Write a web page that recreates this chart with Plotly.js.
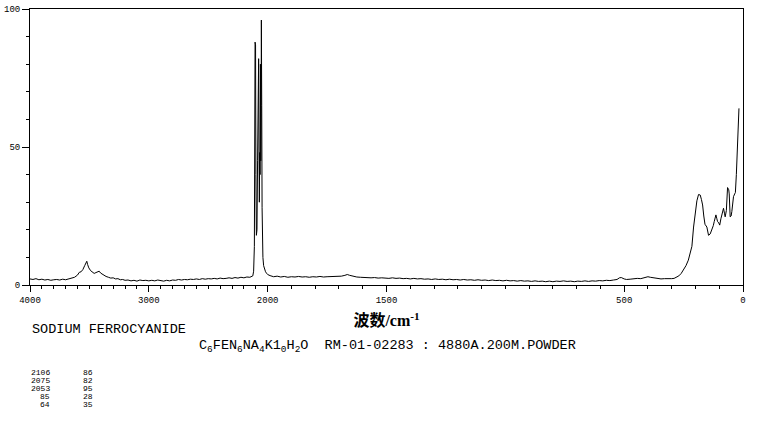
<!DOCTYPE html>
<html>
<head>
<meta charset="utf-8">
<script src="https://cdn.plot.ly/plotly-3.0.1.min.js"></script>
<style>html,body{margin:0;padding:0;background:#fff;}#chart{width:766px;height:425px;}</style>
</head>
<body>
<div id="chart"></div>
<script>
// Raman spectrum, wavenumber (cm-1) and intensity (%)
const wavenumber = [
4000,3975,3950,3925,3900,3875,3850,3825,3800,3775,3750,3725,3700,3675,3650,3625,3600,3585,3570,3555,3540,3530,3522,3515,3505,3490,3475,3460,3445,3430,3418,3405,3390,3375,3360,3340,3320,3300,3280,3260,3240,3220,3200,3175,3150,3125,3100,3075,3050,3025,
3000,2975,2950,2925,2900,2875,2850,2825,2800,2775,2750,2725,2700,2675,2650,2625,2600,2575,2550,2525,2500,2475,2450,2425,2400,2375,2350,2325,2300,2275,2250,2225,2200,2175,2150,2135,2125,2118,2112,2109,2106,2104,2102,2099,2095,2090,2085,2080,2076,2073,2070,2067,2064,2061,2058,2055,2053,2050,2047,2044,2040,2034,2026,2018,2010,
2000,1990,1975,1960,1945,1930,1915,1900,1885,1870,1855,1840,1825,1810,1795,1780,1765,1750,1735,1720,1705,1690,1675,1665,1655,1640,1625,1610,1595,1580,1565,1550,1535,1520,1505,1490,1475,1460,1445,1430,1415,1400,1385,1370,1355,1340,1325,1310,1295,1280,1265,1250,1235,1220,1205,1190,1175,1160,1145,1130,1115,1100,1085,1070,1055,1040,1025,1010,
995,980,965,950,935,920,905,890,875,860,845,830,815,800,785,770,755,740,725,710,695,680,665,650,635,620,605,590,575,560,545,530,520,512,500,490,475,460,445,430,415,400,390,375,360,345,330,315,300,290,280,270,260,250,240,230,222,215,208,201,194,187,180,175,170,165,160,152,145,138,131,125,121,114,110,107,102,98,93,88,82,78,75,70,65,60,58,54,50,47,43,40,35,32,28,24,20,17];
const intensity = [
2.2,2.0,2.3,1.9,2.1,1.8,2.0,1.7,1.9,2.0,1.8,2.1,1.9,2.2,2.5,2.8,3.6,4.6,4.8,5.6,7.0,8.3,8.6,7.4,6.2,5.2,4.6,4.2,4.5,4.9,5.0,4.3,3.9,3.4,3.1,2.8,2.5,2.6,2.2,2.3,1.9,2.0,1.7,1.8,1.5,1.7,1.4,1.8,1.6,1.7,
1.5,1.7,1.5,1.8,1.6,1.4,1.7,1.5,1.8,1.7,2.0,1.8,2.0,1.9,2.1,2.0,2.2,2.0,2.3,2.1,2.3,2.2,2.4,2.2,2.5,2.3,2.4,2.6,2.4,2.7,2.5,2.8,2.6,2.9,2.8,3.1,3.3,5,14,50,88,60,87,40,18,20,45,60,82,50,30,48,40,80,45,62,96,65,28,16,10,7,5.6,4.8,4.3,
3.8,3.4,3.0,3.2,2.9,3.1,2.8,3.0,2.9,3.1,2.9,3.0,2.8,3.0,2.9,3.1,2.9,3.0,3.0,3.1,3.0,3.2,3.5,3.8,3.5,3.1,2.9,2.8,2.7,2.8,2.6,2.7,2.5,2.6,2.5,2.4,2.6,2.4,2.5,2.3,2.4,2.2,2.4,2.2,2.3,2.1,2.2,2.0,2.2,2.0,2.1,1.9,2.1,1.9,2.0,1.8,2.0,1.8,1.9,1.7,1.9,1.7,1.8,1.6,1.8,1.6,1.7,1.5,
1.7,1.5,1.6,1.4,1.6,1.4,1.5,1.3,1.5,1.3,1.4,1.2,1.4,1.2,1.4,1.3,1.5,1.3,1.4,1.2,1.4,1.3,1.5,1.3,1.5,1.4,1.6,1.5,1.7,1.6,1.8,2.0,2.6,2.7,2.2,2.0,2.1,2.3,2.4,2.3,2.6,3.0,2.8,2.6,2.3,2.2,2.3,2.2,2.3,2.4,2.8,3.3,4.2,5.4,7.0,9.0,11.5,14,21,27,30.5,32.8,32.6,31,29,25,22,21,18,18.5,20,21.5,23,25.4,24,23,22.5,21.7,24,26,27.8,26,24.7,27,35.3,34.5,33,24.7,25,26.6,30,32,33,33.5,40,49,58,64];

// axis tick labels (wavenumber)
const majorTicks = [4000,3000,2000,1500,500,0];
const majorLabels = ["4000","3000","2000","1500","500","0"];

// peak table
const peakWn = ["2106","2075","2053","85","64"];
const peakInt = ["86","82","95","28","35"];

// two-scale wavenumber axis: 4000-2000 compressed by 2
function toU(w){ return w >= 2000 ? (4000 - w) / 2 : 1000 + (2000 - w); }

const minorVals = [];
for (let w = 3900; w > 2000; w -= 100) minorVals.push(toU(w));
for (let w = 1900; w > 0; w -= 100) if (majorTicks.indexOf(w) < 0) minorVals.push(toU(w));

const W = 766, H = 425, L = 30, R = 23, T = 9, B = 140;
const pw = W - L - R, ph = H - T - B;
function px2x(x){ return (x - L) / pw; }
function py2y(y){ return (H - B - y) / ph; }

const mono = "Liberation Mono, DejaVu Sans Mono, monospace";

const annotations = [
  {text: "SODIUM FERROCYANIDE", x: px2x(30), y: py2y(329), xanchor: "left", yanchor: "middle"},
  {text: "C<sub>6</sub>FEN<sub>6</sub>NA<sub>4</sub>K1<sub>0</sub>H<sub>2</sub>O  RM-01-02283 : 4880A.200M.POWDER",
   x: px2x(197), y: py2y(346), xanchor: "left", yanchor: "middle"}
].map(a => Object.assign({xref: "paper", yref: "paper", showarrow: false, font: {family: mono, size: 13.5, color: "#000"}}, a));

peakWn.forEach((w, i) => {
  const y = py2y(372 + i * 8);
  const f = {family: mono, size: 8, color: "#000"};
  annotations.push({text: w, x: px2x(52), y: y, xanchor: "right", yanchor: "middle", xref: "paper", yref: "paper", showarrow: false, font: f});
  annotations.push({text: peakInt[i], x: px2x(95), y: y, xanchor: "right", yanchor: "middle", xref: "paper", yref: "paper", showarrow: false, font: f});
});

const trace = {
  x: wavenumber.map(toU),
  y: intensity,
  type: "scatter",
  mode: "lines",
  line: {color: "#000", width: 1},
  hoverinfo: "skip"
};

const layout = {
  width: W, height: H,
  margin: {l: L, r: R, t: T, b: B, pad: 0},
  paper_bgcolor: "#fff", plot_bgcolor: "#fff",
  showlegend: false,
  xaxis: {
    range: [0, 3000],
    tickmode: "array",
    tickvals: majorTicks.map(toU),
    ticktext: majorLabels,
    ticks: "outside", ticklen: 6, tickwidth: 1, tickcolor: "#000",
    minor: {tickmode: "array", tickvals: minorVals, ticks: "outside", ticklen: 3, tickwidth: 1, tickcolor: "#000", showgrid: false},
    showgrid: false, zeroline: false,
    showline: true, linecolor: "#000", linewidth: 1, mirror: true,
    tickfont: {family: mono, size: 9, color: "#000"},
    title: {text: "波数/cm<sup>-1</sup>", standoff: 10, font: {family: "Liberation Serif, Noto Sans CJK SC, serif", size: 16, color: "#000", weight: "bold"}}
  },
  yaxis: {
    range: [0, 100],
    tickmode: "array",
    tickvals: [0, 50, 100],
    ticktext: ["0", "50", "100"],
    ticks: "outside", ticklen: 7, tickwidth: 1, tickcolor: "#000",
    minor: {dtick: 10, tick0: 0, ticks: "outside", ticklen: 3, tickwidth: 1, tickcolor: "#000", showgrid: false},
    showgrid: false, zeroline: false,
    showline: true, linecolor: "#000", linewidth: 1, mirror: true,
    tickfont: {family: mono, size: 9, color: "#000"}
  },
  annotations: annotations
};

Plotly.newPlot("chart", [trace], layout, {staticPlot: true, displayModeBar: false});
</script>
</body>
</html>
